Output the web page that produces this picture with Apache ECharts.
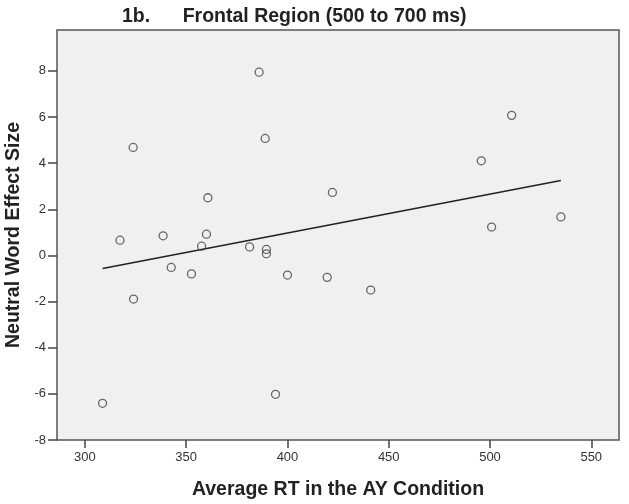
<!DOCTYPE html>
<html>
<head>
<meta charset="utf-8">
<script src="https://cdn.jsdelivr.net/npm/echarts@6/dist/echarts.min.js"></script>
<style>
html,body{margin:0;padding:0;background:#fff;}
#chart{width:629px;height:504px;}
</style>
</head>
<body>
<div id="chart"></div>
<script>
var rtValues = [386.0, 323.8, 389.0, 360.7, 422.2, 317.3, 338.6, 360.0, 357.6, 381.3, 389.6, 389.6,
                342.6, 352.6, 400.0, 419.6, 441.1, 324.0, 308.7, 394.1, 510.7, 495.7, 500.8, 535.0];
var effectValues = [7.94, 4.68, 5.07, 2.50, 2.73, 0.66, 0.85, 0.92, 0.40, 0.37, 0.26, 0.07,
                    -0.52, -0.80, -0.85, -0.95, -1.50, -1.89, -6.41, -6.02, 6.07, 4.10, 1.23, 1.67];
var xTicks = [300, 350, 400, 450, 500, 550];
var yTicks = [-8, -6, -4, -2, 0, 2, 4, 6, 8];

var points = rtValues.map(function (x, i) { return [x, effectValues[i]]; });

// least-squares fit line
var n = rtValues.length, mx = 0, my = 0;
for (var i = 0; i < n; i++) { mx += rtValues[i]; my += effectValues[i]; }
mx /= n; my /= n;
var sxy = 0, sxx = 0;
for (var i = 0; i < n; i++) { sxy += (rtValues[i] - mx) * (effectValues[i] - my); sxx += (rtValues[i] - mx) * (rtValues[i] - mx); }
var slope = sxy / sxx, intercept = my - slope * mx;
var xmin = Math.min.apply(null, rtValues), xmax = Math.max.apply(null, rtValues);
var fitLine = [[xmin, intercept + slope * xmin], [xmax, intercept + slope * xmax]];

var chart = echarts.init(document.getElementById('chart'), null, {renderer: 'canvas'});
var fontFam = '"Liberation Sans", Arial, sans-serif';
chart.setOption({
  animation: false,
  backgroundColor: '#ffffff',
  title: {
    text: '1b.      Frontal Region (500 to 700 ms)',
    left: 117,
    top: 2,
    textStyle: {fontFamily: fontFam, fontWeight: 'bold', fontSize: 19.5, color: '#222'}
  },
  grid: {
    left: 57, right: 10, top: 30, bottom: 64,
    outerBoundsMode: 'none',
    containLabel: false,
    show: true, backgroundColor: '#f0f0f0', borderColor: '#555', borderWidth: 1.5
  },
  xAxis: {
    type: 'value', min: 286.2, max: 563.7,
    name: 'Average RT in the AY Condition', nameLocation: 'middle', nameGap: 40,
    nameTextStyle: {fontFamily: fontFam, fontWeight: 'bold', fontSize: 19.5, color: '#222'},
    axisLine: {show: false, onZero: false},
    splitLine: {show: false},
    axisTick: {show: true, length: 8, lineStyle: {color: '#444', width: 1.5}, customValues: xTicks},
    axisLabel: {fontFamily: fontFam, fontSize: 13, color: '#333', margin: 11, customValues: xTicks}
  },
  yAxis: {
    type: 'value', min: -8, max: 9.77,
    name: 'Neutral Word Effect Size', nameLocation: 'middle', nameGap: 31,
    nameTextStyle: {fontFamily: fontFam, fontWeight: 'bold', fontSize: 19.5, color: '#222'},
    axisLine: {show: false, onZero: false},
    splitLine: {show: false},
    axisTick: {show: true, length: 9, lineStyle: {color: '#444', width: 1.5}, customValues: yTicks},
    axisLabel: {fontFamily: fontFam, fontSize: 13, color: '#333', margin: 11, customValues: yTicks}
  },
  series: [
    {
      type: 'line', data: fitLine, symbol: 'none', silent: true,
      lineStyle: {color: '#222', width: 1.5}, z: 2
    },
    {
      type: 'scatter', data: points, symbol: 'circle', symbolSize: 8,
      itemStyle: {color: 'rgba(0,0,0,0)', borderColor: '#444', borderWidth: 1.3}, z: 3
    }
  ]
});
</script>
</body>
</html>
